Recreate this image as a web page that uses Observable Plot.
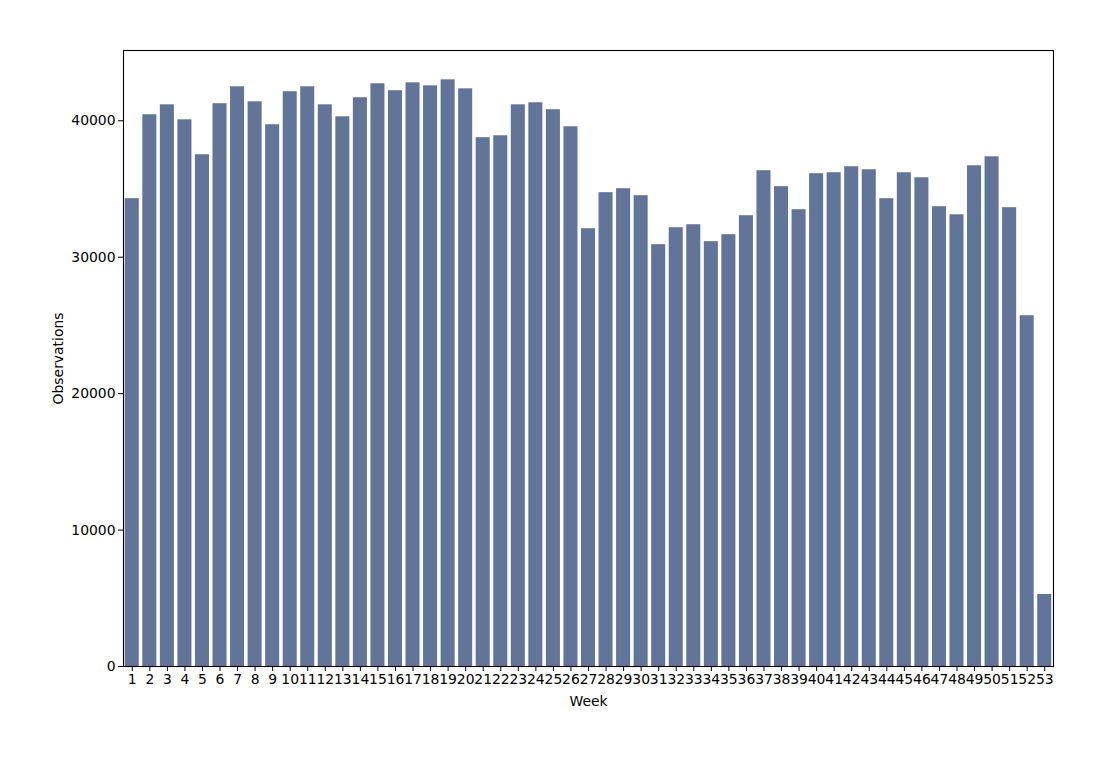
<!DOCTYPE html>
<html>
<head>
<meta charset="utf-8">
<script src="https://cdn.jsdelivr.net/npm/d3@7"></script>
<script src="https://cdn.jsdelivr.net/npm/@observablehq/plot@0.6"></script>
<style>
  html, body { margin: 0; padding: 0; background: #fff; }
  #chart svg { display: block; }
</style>
</head>
<body>
<div id="chart"></div>
<script>
const weeks = [1,2,3,4,5,6,7,8,9,10,11,12,13,14,15,16,17,18,19,20,21,22,23,24,25,26,27,28,29,30,31,32,33,34,35,36,37,38,39,40,41,42,43,44,45,46,47,48,49,50,51,52,53];
const observations = [34290,40440,41170,40070,37510,41250,42490,41390,39710,42130,42490,41170,40290,41690,42710,42200,42780,42560,43000,42340,38760,38900,41170,41320,40810,39560,32090,34730,35020,34510,30920,32160,32380,31140,31650,33040,36340,35170,33480,36120,36190,36630,36410,34290,36190,35820,33700,33110,36700,37360,33630,25710,5280];
const yTicks = [0,10000,20000,30000,40000];
const xLabel = "Week";
const yLabel = "Observations";
const barColor = "#627599";

const data = weeks.map((w, i) => ({week: w, obs: observations[i]}));

const chart = Plot.plot({
  width: 1103,
  height: 759,
  marginLeft: 123,
  marginRight: 50,
  marginTop: 50,
  marginBottom: 93,
  style: {fontFamily: "DejaVu Sans", fontSize: "13.9px", color: "black", background: "white"},
  x: {type: "band", domain: weeks, paddingInner: 0.2, paddingOuter: 0.1, round: false},
  y: {domain: [0, 45150]},
  marks: [
    Plot.barY(data, {x: "week", y: "obs", fill: barColor}),
    Plot.frame({stroke: "black", strokeWidth: 1.1}),
    Plot.axisX({tickSize: 5, tickPadding: 3, label: xLabel, labelAnchor: "center", labelArrow: "none", labelOffset: 39, fontSize: 13.9, tickFormat: d => String(d)}),
    Plot.axisY({ticks: yTicks, tickSize: 5, tickPadding: 3, label: yLabel, labelAnchor: "center", labelArrow: "none", labelOffset: 70, fontSize: 13.9, tickFormat: d3.format("d")})
  ]
});
document.getElementById("chart").appendChild(chart);
</script>
</body>
</html>
